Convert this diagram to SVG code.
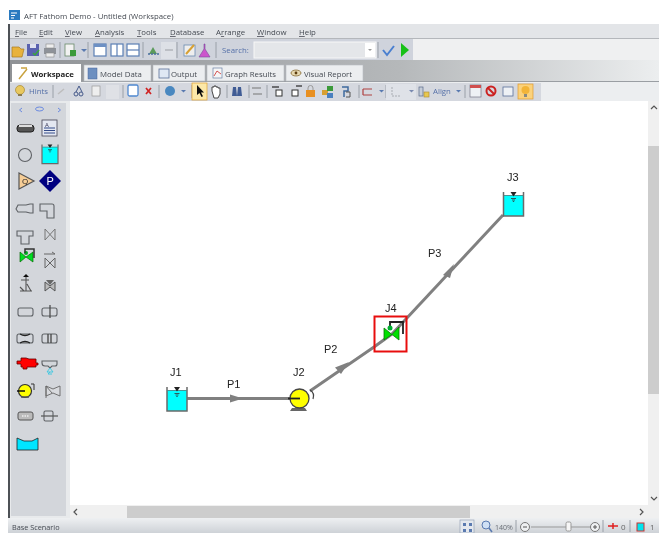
<svg xmlns="http://www.w3.org/2000/svg" width="659" height="533" viewBox="0 0 659 533">
<style>
text{font-family:"Open Sans","Liberation Sans",sans-serif;font-size:7.800px;fill:#454a52}
.lab{font-family:"Liberation Sans",Arial,sans-serif;font-size:11px;fill:#222}
.blue{fill:#5570a8}
.ul{text-decoration:underline}
.pipe{stroke:#808080;stroke-width:3;fill:none}
.arr{fill:#808080}
.pal{fill:#d3d6db;stroke:#5f6266;stroke-width:1.100}
.sep{stroke:#9aa0a8;stroke-width:1}
.tab{fill:#eceef0;stroke:#b8bcc2;stroke-width:.6}
</style>
<defs>
<filter id="soft" x="0" y="0" width="100%" height="100%"><feGaussianBlur stdDeviation="0.35"/></filter>
<linearGradient id="tabs" x1="0" x2="1" y1="0" y2="0"><stop offset="0" stop-color="#8f9296"/><stop offset=".6" stop-color="#b5b8ba"/><stop offset="1" stop-color="#eceeef"/></linearGradient>
<linearGradient id="status" x1="0" x2="0" y1="0" y2="1"><stop offset="0" stop-color="#eef0f2"/><stop offset="1" stop-color="#ced2d7"/></linearGradient>
<g id="tankIcon">
<rect x="-10" y="-9" width="20" height="21" fill="#00ffff"/>
<path d="M-10,-12V12H10V-12" fill="none" stroke="#6a6a6a" stroke-width="1.500"/>
<path d="M-9.500,-8.500H9.500" stroke="#5a7a7a" stroke-width=".8"/>
<path d="M-3,-12H3L0,-7.500Z" fill="#222"/>
<path d="M-2.500,-5.500H2.500M-1.500,-4H1.500M-.7,-2.500H.7" stroke="#333" stroke-width=".8"/>
</g>
</defs>
<g filter="url(#soft)">
<rect width="659" height="533" fill="#fff"/>
<g id="title">
<rect x="9" y="10" width="11" height="10" fill="#2a7ac0"/><path d="M11,13h6M11,15.500h4M11,18h3" stroke="#fff" stroke-width="1.100"/>
<text x="24" y="19">AFT Fathom Demo - Untitled (Workspace)</text>
</g>
<rect x="8" y="24" width="651" height="14" fill="#e3e5e8"/>
<rect x="8" y="38" width="651" height="1" fill="#b4b7bb"/>
<rect x="8" y="39" width="651" height="21" fill="#eff0f1"/>
<rect x="9" y="39" width="404" height="21" fill="#cfd3dc"/>
<rect x="8" y="60" width="651" height="22" fill="url(#tabs)"/>
<rect x="8" y="81" width="651" height="1" fill="#9a9ea3"/>
<rect x="8" y="82" width="651" height="19" fill="#eceef0"/>
<rect x="9" y="83" width="532" height="18" fill="#d5d8df"/>
<rect x="8" y="24" width="2" height="509" fill="#4d5156"/>
<rect x="10" y="101" width="60" height="417" fill="#e8eaec"/>
<rect x="11" y="103" width="55" height="413" fill="#d3d6db"/>
<rect x="70" y="101" width="578" height="404" fill="#fff"/>

<g id="menu">
<text x="15" y="35"><tspan class="ul">F</tspan>ile</text>
<text x="39" y="35"><tspan class="ul">E</tspan>dit</text>
<text x="65" y="35"><tspan class="ul">V</tspan>iew</text>
<text x="95" y="35"><tspan class="ul">A</tspan>nalysis</text>
<text x="137" y="35"><tspan class="ul">T</tspan>ools</text>
<text x="170" y="35"><tspan class="ul">D</tspan>atabase</text>
<text x="216" y="35">A<tspan class="ul">r</tspan>range</text>
<text x="257" y="35"><tspan class="ul">W</tspan>indow</text>
<text x="299" y="35"><tspan class="ul">H</tspan>elp</text>
</g>

<g id="toolbar">
<path d="M12,47h7l2,2h3l-2,8H12z" fill="#e8b23c" stroke="#a87a20" stroke-width=".7"/>
<rect x="27" y="44" width="12" height="12" fill="#5a62b0"/><rect x="30" y="44" width="6" height="4" fill="#dfe2f0"/><path d="M33,53l2,2 4,-5" stroke="#3aa63a" fill="none" stroke-width="1.500"/>
<rect x="44" y="48" width="12" height="6" fill="#8e9299"/><rect x="46" y="44" width="8" height="4" fill="#eee" stroke="#888" stroke-width=".6"/><rect x="46" y="53" width="8" height="4" fill="#eee" stroke="#888" stroke-width=".6"/>
<path class="sep" d="M60,42V58M88,42V58M143,42V58M177,42V58M216,42V58"/>
<rect x="65" y="44" width="9" height="12" fill="#f2f2f2" stroke="#6a8a6a" stroke-width=".8"/><rect x="70" y="50" width="6" height="6" fill="#3a9a3a"/>
<path d="M81,49h6l-3,3z" fill="#5a7ab0"/>
<rect x="94" y="44" width="12" height="12" fill="#fff" stroke="#5b7fb5" stroke-width="1.200"/><rect x="94" y="44" width="12" height="3" fill="#6d90c4"/>
<rect x="111" y="44" width="12" height="12" fill="#fff" stroke="#5b7fb5" stroke-width="1.200"/><path d="M117,44v12" stroke="#5b7fb5" stroke-width="1.200"/>
<rect x="127" y="44" width="12" height="12" fill="#fff" stroke="#5b7fb5" stroke-width="1.200"/><path d="M127,50h12" stroke="#5b7fb5" stroke-width="1.200"/>
<path d="M149,54l4,-7 4,7z" fill="#5a9a5a"/><path d="M148,54h11" stroke="#4a6fa0" stroke-width="1.500" stroke-dasharray="2 1"/>
<rect x="161" y="42" width="15" height="17" fill="#dde0e6"/><path d="M165,50h8" stroke="#b0b4ba" stroke-width="1.500"/>
<rect x="184" y="45" width="11" height="11" fill="#eee" stroke="#6a8ab0" stroke-width=".8"/><path d="M186,54l8,-9" stroke="#d8a030" stroke-width="2"/>
<path d="M205,44v5l5,8h-11l5,-8v-5z" fill="#cc55cc" stroke="#7a4a9a" stroke-width=".6"/>
<text x="222" y="53" class="blue">Search:</text>
<rect x="254" y="42" width="122" height="16" fill="#e4e6e9" stroke="#f7f7f7" stroke-width="1"/>
<rect x="365" y="43" width="10" height="14" fill="#fff"/>
<path d="M368,49h4l-2,2z" fill="#999"/>
<path class="sep" d="M378,42V58"/>
<path d="M383,50l4,5 7,-9" fill="none" stroke="#4a7fd0" stroke-width="2"/>
<path d="M401,43l8,7 -8,7z" fill="#18c018"/>
</g>

<g id="tabs-row">
<path d="M12,82V64H81V82Z" fill="#fff"/>
<path d="M19,79l8,-10M21,68h6" stroke="#c9a340" stroke-width="1.500" fill="none"/>
<text x="31" y="77" style="font-weight:700;fill:#222">Workspace</text>
<rect x="84" y="65" width="67" height="16" class="tab"/>
<rect x="88" y="68" width="9" height="11" fill="#6d8fc0" stroke="#48659a" stroke-width=".5"/>
<text x="100" y="77">Model Data</text>
<rect x="153" y="65" width="52" height="16" class="tab"/>
<rect x="159" y="69" width="10" height="9" fill="#dfe8f4" stroke="#5a7099" stroke-width=".8"/>
<text x="171" y="77">Output</text>
<rect x="207" y="65" width="77" height="16" class="tab"/>
<rect x="213" y="68" width="9" height="10" fill="#f6f6f6" stroke="#6a80a5" stroke-width=".7"/><path d="M214,76l3,-5 4,3" stroke="#d04040" fill="none" stroke-width=".9"/>
<text x="225" y="77">Graph Results</text>
<rect x="286" y="65" width="77" height="16" class="tab"/>
<ellipse cx="296" cy="73" rx="5" ry="3" fill="#e6d8b0" stroke="#7a5a20" stroke-width=".7"/><circle cx="296" cy="73" r="1.400" fill="#5a3a10"/>
<text x="304" y="77">Visual Report</text>
</g>

<g id="toolrow">
<circle cx="20" cy="90" r="4.500" fill="#e8c860" stroke="#a88830" stroke-width=".7"/><rect x="18" y="94" width="4" height="2" fill="#8a7a50"/>
<text x="29" y="94" class="blue">Hints</text>
<path class="sep" d="M53,85V98M123,85V98M159,85V98M192,85V98M227,85V98M249,85V98M267,85V98M359,85V98M386,85V98M465,85V98"/>
<path d="M58,94l6,-5" stroke="#bdbdbd" stroke-width="1.500"/>
<circle cx="76" cy="94" r="2" fill="none" stroke="#44598a"/><circle cx="81" cy="94" r="2" fill="none" stroke="#44598a"/><path d="M76,92l3,-6 3,6" fill="none" stroke="#44598a"/>
<rect x="92" y="86" width="8" height="10" fill="#eee" stroke="#999" stroke-width=".7"/>
<rect x="106" y="85" width="13" height="14" fill="#dfe1e6"/>
<rect x="128" y="85" width="10" height="11" rx="1.500" fill="#fff" stroke="#4f88d0" stroke-width="1.300"/>
<path d="M146,88l5,6M151,88l-5,6" stroke="#d02020" stroke-width="1.700"/>
<circle cx="170" cy="91" r="5" fill="#4a88c0"/><path d="M181,90h5l-2.500,2.500z" fill="#5a7ab0"/>
<rect x="192" y="83" width="15" height="17" fill="#fce8a8" stroke="#e0a030" stroke-width=".7"/>
<path d="M197,85v10l2.500,-2 2,4 1.500,-.8 -2,-3.800h3z" fill="#111"/>
<path d="M212,91v-4h2v-1h2v1h2v1h2v6l-2,4h-4z" fill="#fff" stroke="#333" stroke-width=".9"/>
<path d="M233,87h3l1,9h-5zM238,87h3l1,9h-5z" fill="#3f5c95"/>
<path d="M252,88h9M253,94h9" stroke="#777" stroke-width="1.200"/>
<rect x="276" y="90" width="6" height="6" fill="#fff" stroke="#333"/><path d="M272,87h7" stroke="#333" stroke-width="1.300"/>
<rect x="292" y="90" width="6" height="6" fill="#fff" stroke="#333"/><path d="M296,86h6" stroke="#333" stroke-width="1.300"/>
<rect x="306" y="90" width="9" height="7" fill="#e89020"/><path d="M308,90v-2a2.500,2.500 0 0 1 5,0v2" fill="none" stroke="#999"/>
<rect x="322" y="90" width="6" height="5" fill="#d8a030"/><rect x="327" y="86" width="6" height="5" fill="#3a9a3a"/><rect x="327" y="93" width="6" height="5" fill="#4a80c0"/>
<path d="M342,87h6v4h-4v6" fill="none" stroke="#3f6a9f" stroke-width="1.500"/><path d="M346,92h4v5h-4" fill="none" stroke="#555"/>
<path d="M363,89h9M363,95h9M363,89v6" stroke="#b04040" stroke-width="1.200" fill="none"/>
<path d="M379,90h5l-2.500,2.500z" fill="#5a7ab0"/>
<rect x="386" y="84" width="30" height="16" fill="#dfe2e8"/>
<path d="M392,87v9h8" stroke="#a8acb2" stroke-dasharray="2 1" fill="none"/>
<path d="M409,90h5l-2.500,2.500z" fill="#7a8ab0"/>
<rect x="419" y="87" width="4" height="9" fill="#c5ccd8" stroke="#5a6a8a" stroke-width=".7"/><rect x="424" y="92" width="5" height="5" fill="#e8c850" stroke="#a88830" stroke-width=".6"/>
<text x="433" y="94" class="blue">Align</text>
<path d="M456,90h5l-2.500,2.500z" fill="#5a7ab0"/>
<rect x="470" y="85" width="11" height="12" fill="#eef1f5" stroke="#778" stroke-width=".7"/><rect x="470" y="85" width="11" height="3" fill="#d05050"/>
<circle cx="491" cy="91" r="4.500" fill="none" stroke="#cc2020" stroke-width="2"/><path d="M488,88l6,6" stroke="#cc2020" stroke-width="2"/>
<rect x="503" y="87" width="10" height="9" fill="#eef1f5" stroke="#5a7099" stroke-width=".8"/>
<rect x="518" y="84" width="15" height="15" fill="#fbd27c" stroke="#e09a30" stroke-width=".7"/>
<circle cx="525.500" cy="90" r="4" fill="#f2b438"/><rect x="524" y="94" width="3" height="3" fill="#8a8a80"/>
</g>

<g id="palette">
<path d="M22,108l-2.500,2 2.500,2M58,108l2.500,2 -2.500,2" fill="none" stroke="#6a8ae0" stroke-width="1"/>
<ellipse cx="39.500" cy="109" rx="4" ry="2" fill="none" stroke="#6a8ae0"/>
<rect x="17" y="125" width="17" height="7" rx="3" fill="#555" stroke="#222"/><rect x="19" y="125" width="13" height="2" fill="#ddd"/>
<rect x="42" y="120" width="15" height="16" fill="#e4e8f2" stroke="#445" stroke-width=".8"/><path d="M44,128h11M44,130.500h11M44,133h11" stroke="#334a88" stroke-width="1"/><text x="45" y="127" style="font-size:6px;fill:#335">A</text>
<circle cx="25" cy="155" r="6.500" class="pal"/>
<use href="#tankIcon" transform="translate(50,154) scale(.8)"/>
<path d="M19,173L34,181L19,189Z" fill="#f6cd96" stroke="#555" stroke-width="1.200"/><text x="22" y="184" style="font-size:8px;fill:#222">Q</text>
<path d="M50,170L61,181L50,192L39,181Z" fill="#000080"/><text x="46.500" y="185" style="font-size:11px;fill:#fff;font-family:'Liberation Sans',sans-serif">P</text>
<path d="M18,205h8l4,-1h3v9h-3l-4,-1h-8l-2,-3z" class="pal"/>
<path d="M40,204h12q2,0 2,2v12h-7v-7h-7z" class="pal"/>
<path d="M17,231h16v5h-4v8h-8v-8h-4z" class="pal"/>
<path d="M45,229l10,11M55,229l-10,11M45,229v11M55,229v11" fill="none" stroke="#777" stroke-width="1"/>
<path d="M20,252v10l6,-5zM33,252v10l-7,-5z" fill="#00dd22" stroke="#0a6a0a" stroke-width=".7"/>
<circle cx="26" cy="253" r="2" fill="#00aa22"/>
<path d="M25,253v-4h9v9" fill="none" stroke="#333" stroke-width="1.500"/>
<path d="M45,258v10l10,-10v10zM44,254h11l-3,-2" fill="none" stroke="#666"/>
<path d="M26,277v14M21,280h8M24,291l-4,-4M20,291h12M27,284l4,7" stroke="#555" fill="none" stroke-width="1.100"/><path d="M23,277h6l-3,-3z" fill="#111"/>
<path d="M45,282l5,4 5,-4v9l-5,-4 -5,4z" fill="#bbb" stroke="#555"/><path d="M46,280l4,5 4,-5" fill="#666"/>
<rect x="18" y="308" width="15" height="8" rx="2" class="pal"/>
<rect x="42" y="308" width="15" height="8" rx="2" class="pal"/><path d="M50,305v13" stroke="#444" stroke-width="1.200"/>
<rect x="17" y="334" width="16" height="9" rx="2" class="pal"/><path d="M20,334q5,3 10,0M20,343q5,-3 10,0" stroke="#222" stroke-width="1.400" fill="none"/>
<rect x="42" y="334" width="15" height="9" rx="2" class="pal"/><path d="M48,334v9M51,334v9" stroke="#444" stroke-width="1.300"/>
<path d="M17,361h4v-3h5l3,1h7v4h2v2h-2v2h-9v2h-4v-2h-2v-3h-4z" fill="#ff0000" stroke="#600" stroke-width=".8"/>
<path d="M42,361h15v3q0,2 -2,2h-3l-2,2 -2,-2h-3q-3,0 -3,-3z" class="pal"/><path d="M50,368l-3,4h6zM50,372l-2,2h4" fill="none" stroke="#44c8e0"/>
<circle cx="25" cy="391" r="6.500" fill="#ffff00" stroke="#333" stroke-width="1.200"/><path d="M17,391h8" stroke="#111" stroke-width="1.500"/><path d="M31,384h3v6" fill="none" stroke="#333"/><path d="M21,397h8" stroke="#555" stroke-width="1.500"/>
<path d="M46,386l7,3 7,-3v10l-7,-3 -7,3zM46,386v12M46,386l6,7" fill="#d8dade" stroke="#666" stroke-width=".9"/>
<rect x="18" y="412" width="15" height="8" rx="2" fill="#bbb" stroke="#555"/><path d="M22,416h7" stroke="#eee" stroke-width="1.500" stroke-dasharray="1.500 1"/>
<rect x="44" y="411" width="9" height="10" rx="1.500" class="pal"/><path d="M41,416h17" stroke="#555" stroke-width="1.200"/>
<path d="M17,438l7,3h8l6,-3v12H17z" fill="#00e5ff" stroke="#222" stroke-width=".8"/>
</g>

<g id="scrollbars">
<rect x="648" y="101" width="11" height="404" fill="#f0f0f0"/>
<rect x="648" y="146" width="11" height="248" fill="#cdcdcd"/>
<path d="M651,109l3,-3 3,3" fill="none" stroke="#555" stroke-width="1.200"/>
<path d="M651,497l3,3 3,-3" fill="none" stroke="#555" stroke-width="1.200"/>
<rect x="70" y="505" width="589" height="13" fill="#f0f0f0"/>
<rect x="127" y="506" width="343" height="12" fill="#cdcdcd"/>
<path d="M77,509l-3,3 3,3" fill="none" stroke="#555" stroke-width="1.200"/>
<path d="M640,509l3,3 -3,3" fill="none" stroke="#555" stroke-width="1.200"/>
</g>

<g id="statusbar">
<rect x="8" y="518" width="651" height="15" fill="url(#status)"/>
<text x="12" y="530" style="font-size:7.300px">Base Scenario</text>
<rect x="460" y="520" width="14" height="13" fill="#e4e8ee" stroke="#8a9ab0" stroke-width=".6"/><path d="M463,523h3v3h-3zM469,523h3v3h-3zM463,529h3v3h-3zM469,529h3v3h-3z" fill="#5a7ab0"/>
<circle cx="486" cy="525" r="4" fill="#cfe0f5" stroke="#5a7ab0"/><path d="M489,528l3,4" stroke="#5a7ab0" stroke-width="1.500"/>
<text x="495" y="530" style="font-size:7px;fill:#6a6f77">140%</text>
<path class="sep" d="M516,520V532"/>
<circle cx="525" cy="527" r="4.500" fill="#eef0f2" stroke="#777"/><path d="M523,527h4" stroke="#555"/>
<path d="M531,527H590" stroke="#999"/>
<rect x="566" y="522" width="5" height="9" rx="1.500" fill="#f6f6f6" stroke="#999"/>
<circle cx="595" cy="527" r="4.500" fill="#eef0f2" stroke="#777"/><path d="M593,527h4M595,525v4" stroke="#555"/>
<path class="sep" d="M603,520V532M630,520V532"/>
<path d="M608,526h10" stroke="#e02020" stroke-width="1.500"/><path d="M613,523v6" stroke="#e02020" stroke-width="1.500"/>
<text x="621" y="530" style="font-size:8px;fill:#666">0</text>
<rect x="637" y="523" width="7" height="8" fill="#00e5ef" stroke="#d03030" stroke-width="1"/>
<text x="650" y="530" style="font-size:8px;fill:#666">1</text>
</g>

<g id="connectors">
<g id="P1">
<path class="pipe" d="M187,398.500H290"/>
<path class="arr" d="M230,394.500L243,398.500L230,402.500Z"/>
<text class="lab" x="227" y="388">P1</text>
</g>
<g id="P2">
<path class="pipe" d="M310,391L374,347L392,334"/>
<path class="arr" d="M335,367.500L349,362L341,374Z"/>
<text class="lab" x="324" y="353">P2</text>
</g>
<g id="P3">
<path class="pipe" d="M392,334L503,215"/>
<path class="arr" d="M443,275L454,264L450,278Z"/>
<text class="lab" x="428" y="257">P3</text>
</g>
</g>

<g id="J1">
<text class="lab" x="170" y="376">J1</text>
<use href="#tankIcon" x="177" y="399"/>
</g>
<g id="J2">
<text class="lab" x="293" y="376">J2</text>
<path d="M290,411h17l-2,-3h-13z" fill="#666"/>
<path d="M310,390q5,3 3,9" fill="none" stroke="#444" stroke-width="1.200"/>
<circle cx="299.500" cy="398.500" r="9.500" fill="#ffff00" stroke="#444" stroke-width="1.300"/>
<path d="M288,398.500H300" stroke="#222" stroke-width="1.800"/>
</g>
<g id="J3">
<text class="lab" x="507" y="181">J3</text>
<use href="#tankIcon" x="513.500" y="204"/>
</g>
<g id="J4">
<text class="lab" x="385" y="312">J4</text>
<rect x="374.500" y="316.500" width="32" height="35" fill="none" stroke="#e81010" stroke-width="2"/>
<path d="M390,327v-5h13v12" fill="none" stroke="#222" stroke-width="1.800"/>
<path d="M384,328L392,334.500L384,340Z" fill="#00e000" stroke="#0a7a0a" stroke-width=".8"/>
<path d="M399,327L392,334.500L399,340Z" fill="#00e000" stroke="#0a7a0a" stroke-width=".8"/>
<circle cx="390" cy="328" r="2.500" fill="#00b030"/>
</g>
</g>
</svg>
